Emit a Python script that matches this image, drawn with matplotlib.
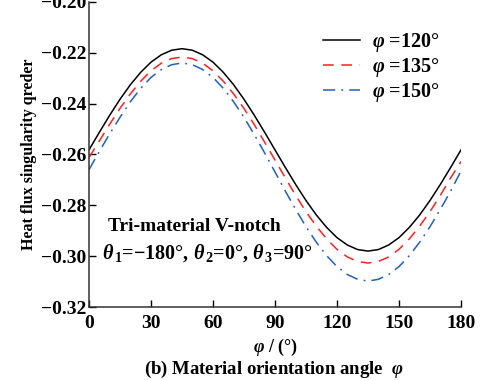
import matplotlib
matplotlib.use("Agg")
import matplotlib.pyplot as plt

plt.rcParams['font.family'] = ['Liberation Serif', 'DejaVu Serif']
plt.rcParams['font.weight'] = 'bold'
plt.rcParams['mathtext.fontset'] = 'custom'
plt.rcParams['mathtext.rm'] = 'Liberation Serif:bold'
plt.rcParams['mathtext.it'] = 'Liberation Serif:italic:bold'
plt.rcParams['mathtext.bf'] = 'Liberation Serif:bold'
plt.rcParams['axes.unicode_minus'] = True

angle = list(range(0, 181, 5))
q120 = [-0.2582, -0.2513, -0.2446, -0.2383, -0.2326, -0.2277, -0.2237, -0.2208, -0.2190, -0.2184,
        -0.2190, -0.2208, -0.2237, -0.2277, -0.2326, -0.2383, -0.2446, -0.2513, -0.2582,
        -0.2651, -0.2718, -0.2781, -0.2838, -0.2887, -0.2927, -0.2956, -0.2974, -0.2980,
        -0.2974, -0.2956, -0.2927, -0.2887, -0.2838, -0.2781, -0.2718, -0.2651, -0.2582]
q135 = [-0.2612, -0.2547, -0.2481, -0.2419, -0.2362, -0.2312, -0.2271, -0.2241, -0.2223, -0.2217,
        -0.2223, -0.2241, -0.2271, -0.2312, -0.2362, -0.2419, -0.2483, -0.2552, -0.2622,
        -0.2692, -0.2761, -0.2825, -0.2882, -0.2932, -0.2973, -0.3003, -0.3021, -0.3027,
        -0.3021, -0.3003, -0.2973, -0.2932, -0.2882, -0.2825, -0.2761, -0.2692, -0.2628]
q150 = [-0.2660, -0.2588, -0.2519, -0.2454, -0.2393, -0.2340, -0.2297, -0.2266, -0.2247, -0.2240,
        -0.2247, -0.2266, -0.2297, -0.2340, -0.2393, -0.2454, -0.2522, -0.2594, -0.2669,
        -0.2744, -0.2816, -0.2884, -0.2945, -0.2998, -0.3041, -0.3072, -0.3091, -0.3098,
        -0.3091, -0.3072, -0.3041, -0.2998, -0.2945, -0.2884, -0.2816, -0.2744, -0.2665]
labels = [r'$\varphi$ =120°', r'$\varphi$ =135°', r'$\varphi$ =150°']
xticks = [0, 30, 60, 90, 120, 150, 180]
yticks = [-0.32, -0.30, -0.28, -0.26, -0.24, -0.22, -0.20]

fig = plt.figure(figsize=(4.85, 3.8), dpi=100)
ax = fig.add_axes([0.1835, 0.192, 0.767, 0.803])

ax.plot(angle, q120, color='black', lw=1.1, label=labels[0])
ax.plot(angle, q135, color='#ff2020', lw=1.1, dashes=(7, 5), label=labels[1])
ax.plot(angle, q150, color='#1f5fbf', lw=1.1, dashes=(8, 4, 1.2, 4), label=labels[2])

ax.set_xlim(0, 180)
ax.set_ylim(-0.32, -0.20)
ax.set_xticks(xticks)
ax.set_yticks(yticks)
ax.set_yticklabels([f'{v:.2f}'.replace('-', '\u2212') for v in yticks])
ax.tick_params(direction='in', length=5, width=1, labelsize=14)
ax.tick_params(axis='x', pad=6)
ax.tick_params(axis='y', pad=2)
for lab in ax.get_xticklabels() + ax.get_yticklabels():
    lab.set_fontweight('bold')
ax.spines['top'].set_visible(False)
ax.spines['right'].set_visible(False)
for s in ('left', 'bottom'):
    ax.spines[s].set_linewidth(1.1)
    ax.spines[s].set_color('#333333')

ax.set_ylabel('Heat flux singularity qreder', fontsize=11.5, fontweight='bold', labelpad=3)
ax.set_xlabel(r'$\varphi$ / (°)', fontsize=13, fontweight='bold', labelpad=3)
fig.text(0.565, 0.0, r'(b) Material orientation angle  $\varphi$', ha='center', va='bottom',
         fontsize=13.5, fontweight='bold')

ax.text(0.05, 0.25, 'Tri-material V-notch', transform=ax.transAxes, fontsize=14, fontweight='bold')
ax.text(0.035, 0.16, r'$\theta_{\,1}$=−180°, $\theta_{\,2}$=0°, $\theta_{\,3}$=90°', transform=ax.transAxes,
        fontsize=14.5, fontweight='bold')

leg = ax.legend(loc='upper right', bbox_to_anchor=(0.99, 0.965), frameon=False, fontsize=14.5,
                handlelength=1.85, handletextpad=0.55, labelspacing=0.1)

fig.savefig('out.png', dpi=100)
